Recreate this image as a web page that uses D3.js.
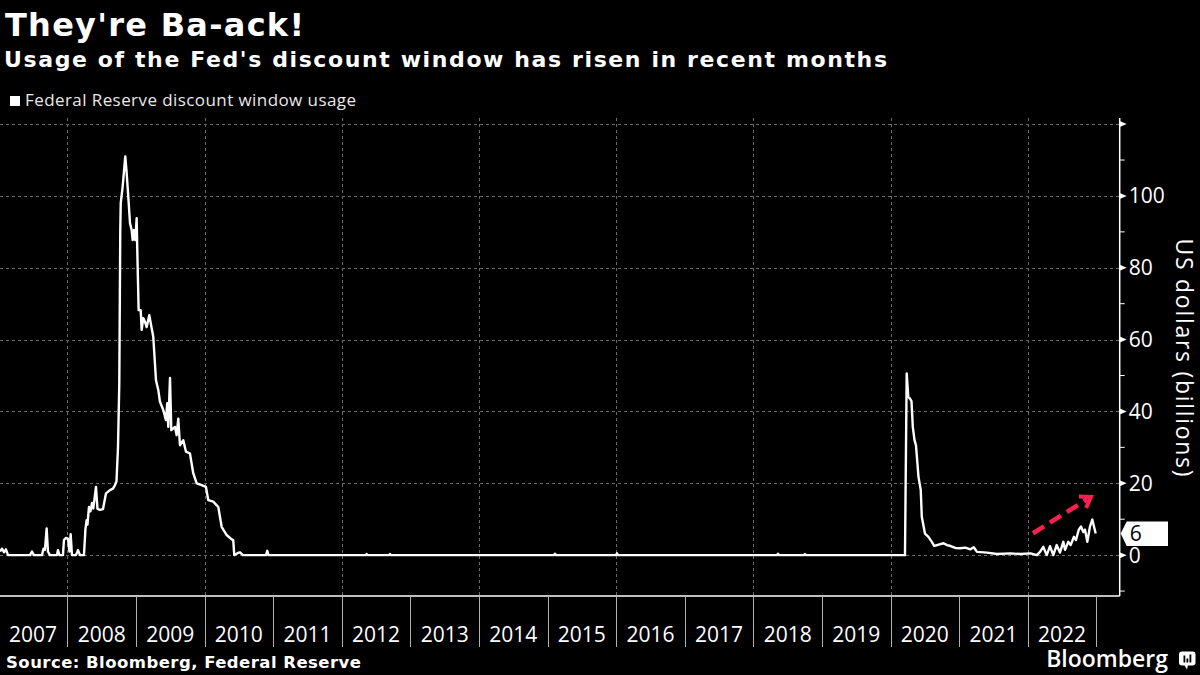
<!DOCTYPE html>
<html>
<head>
<meta charset="utf-8">
<script src="https://cdn.jsdelivr.net/npm/d3@7"></script>
<style>
body{margin:0;background:#000;}
svg{display:block;}
</style>
</head>
<body>
<script>
// weekly discount window usage, US$ billions (decimal year, value)
var usage = [
  [2007.018,1.0],[2007.047,1.8],[2007.076,0.8],[2007.105,1.6],[2007.134,0],
  [2007.455,0],[2007.484,1.0],[2007.513,0],
  [2007.630,0],[2007.652,1.8],[2007.673,1.5],[2007.698,7.4],[2007.717,1.0],[2007.746,0],
  [2007.848,0],[2007.863,1.4],[2007.885,0],
  [2007.936,0],[2007.950,4.2],[2007.980,4.8],[2008.009,4.6],[2008.031,1.0],[2008.048,5.8],[2008.067,0],
  [2008.125,0],[2008.155,1.4],[2008.184,0],[2008.242,0],
  [2008.264,7.4],[2008.281,9.7],[2008.293,8.5],[2008.315,13.4],[2008.337,12.2],[2008.359,14.5],
  [2008.378,13.0],[2008.417,19.0],[2008.439,12.9],[2008.475,12.6],[2008.519,12.8],[2008.563,17.2],
  [2008.621,18.1],[2008.665,18.5],[2008.694,19.5],[2008.716,20.5],[2008.738,30],[2008.757,47.9],
  [2008.771,90],[2008.778,98],[2008.806,102.6],[2008.844,111],[2008.862,107],[2008.888,99.8],
  [2008.913,92.4],[2008.937,90.5],[2008.952,87.7],[2008.971,90.5],[2008.990,87.7],[2009.010,93.8],
  [2009.019,85],[2009.039,68.2],[2009.069,68.2],[2009.083,62.7],[2009.106,66],[2009.131,65],
  [2009.156,63.5],[2009.194,66.8],[2009.252,60.8],[2009.292,48.7],[2009.325,46],[2009.350,42.7],
  [2009.398,40.4],[2009.437,37.6],[2009.456,42.3],[2009.471,35.7],[2009.496,49.3],[2009.515,34.8],
  [2009.569,35.7],[2009.593,33.4],[2009.617,38],[2009.641,30.6],[2009.690,32],[2009.729,28.8],
  [2009.787,28.3],[2009.835,22.8],[2009.885,20],[2009.958,19.5],[2010.020,19],[2010.054,15.3],
  [2010.127,14.9],[2010.200,13.4],[2010.249,7.9],[2010.322,5.6],[2010.395,4.4],[2010.418,4.2],
  [2010.433,0],[2010.487,0.6],[2010.516,0.8],[2010.560,0],
  [2010.895,0],[2010.914,1.2],[2010.931,0],
  [2012.353,0],[2012.363,0.3],[2012.375,0],[2012.688,0],[2012.703,0.3],[2012.717,0],
  [2015.093,0],[2015.108,0.4],[2015.122,0],[2015.997,0],[2016.012,0.5],[2016.026,0],
  [2018.344,0],[2018.359,0.4],[2018.373,0],[2018.738,0],[2018.752,0.3],[2018.767,0],
  [2020.210,0],[2020.235,50.6],[2020.258,44],[2020.283,43.6],[2020.305,42.8],[2020.324,35.7],
  [2020.349,32],[2020.370,30.6],[2020.407,21.8],[2020.440,18.1],[2020.455,10.7],[2020.501,6],
  [2020.552,5.1],[2020.601,3.7],[2020.636,2.6],[2020.698,2.9],[2020.773,3.3],[2020.822,2.8],
  [2020.866,2.6],[2020.943,2.0],[2021.016,1.9],[2021.089,2.1],[2021.162,1.6],[2021.212,2.2],
  [2021.260,0.9],[2021.405,0.7],[2021.551,0.3],[2021.746,0.5],[2021.893,0.3],[2022.041,0.5],
  [2022.134,0],[2022.178,0.9],[2022.226,2.3],[2022.276,0],[2022.324,2.5],[2022.372,0],
  [2022.421,2.8],[2022.469,0.7],[2022.518,3.7],[2022.543,1.5],[2022.590,3.7],[2022.625,2.8],
  [2022.673,5.1],[2022.703,4.2],[2022.742,7],[2022.776,8],[2022.809,6.4],[2022.834,7.1],
  [2022.868,3.7],[2022.907,8],[2022.940,9.9],[2022.990,6]
];
var years = [2007,2008,2009,2010,2011,2012,2013,2014,2015,2016,2017,2018,2019,2020,2021,2022];
var gridYears = [2008,2010,2012,2014,2016,2018,2020,2022];
var yMajor = [0,20,40,60,80,100,120];
var yLabels = [0,20,40,60,80,100];
var yMinor = [-10,10,30,50,70,90,110];
// red "rising" arrow, in data units
var arrowFrom = [2022.076,6.1], arrowTo = [2022.92,16.2];

var W = 1200, H = 675;
var svg = d3.select("body").append("svg").attr("width",W).attr("height",H);
svg.append("rect").attr("width",W).attr("height",H).attr("fill","#000");

var x = d3.scaleLinear().domain([2007.018, 2023.34]).range([0, 1119.7]);
var y = d3.scaleLinear().domain([-11.1, 121.7]).range([595, 118]);
var axisX = x.range()[1], baseY = 596;

// titles
svg.append("text").attr("x",5).attr("y",36)
  .attr("textLength",299).attr("lengthAdjust","spacing")
  .attr("style","font-family:'DejaVu Sans';font-weight:bold;font-size:32px;fill:#fff")
  .text("They're Ba-ack!");
svg.append("text").attr("x",4).attr("y",67)
  .attr("textLength",883).attr("lengthAdjust","spacing")
  .attr("style","font-family:'DejaVu Sans';font-weight:bold;font-size:22px;fill:#fff")
  .text("Usage of the Fed's discount window has risen in recent months");

// legend
svg.append("rect").attr("x",10).attr("y",96).attr("width",10).attr("height",10).attr("fill","#fff");
svg.append("text").attr("x",25).attr("y",106)
  .attr("textLength",331).attr("lengthAdjust","spacing")
  .attr("style","font-family:'Open Sans';font-size:17px;fill:#e8e8e8")
  .text("Federal Reserve discount window usage");

// grid
var grid = svg.append("g").attr("stroke","#6a6a6a").attr("stroke-width",1).attr("stroke-dasharray","3,3");
grid.selectAll("line.h").data(yMajor).enter().append("line").attr("class","h")
  .attr("x1",0).attr("x2",axisX)
  .attr("y1",function(d){return Math.round(y(d))+0.5;})
  .attr("y2",function(d){return Math.round(y(d))+0.5;});
grid.selectAll("line.v").data(gridYears).enter().append("line").attr("class","v")
  .attr("x1",function(d){return Math.round(x(d))+0.5;})
  .attr("x2",function(d){return Math.round(x(d))+0.5;})
  .attr("y1",y.range()[1]).attr("y2",baseY);

// bottom axis: baseline, year separators, centred labels
svg.append("line").attr("x1",0).attr("x2",axisX).attr("y1",baseY).attr("y2",baseY)
  .attr("stroke","#fff").attr("stroke-width",1.5);
svg.selectAll("line.sep").data(years.map(function(d){return d+1;})).enter().append("line").attr("class","sep")
  .attr("x1",function(d){return Math.round(x(d))+0.5;})
  .attr("x2",function(d){return Math.round(x(d))+0.5;})
  .attr("y1",baseY).attr("y2",647)
  .attr("stroke","#b0b0b0").attr("stroke-width",1);
svg.selectAll("text.yr").data(years).enter().append("text").attr("class","yr")
  .attr("x",function(d){return x(d+0.5);}).attr("y",642)
  .attr("text-anchor","middle")
  .attr("style","font-family:'Open Sans';font-size:21px;fill:#fff")
  .text(function(d){return d;});

// right axis
var ax = svg.append("g");
ax.append("line").attr("x1",axisX).attr("x2",axisX).attr("y1",y.range()[1]).attr("y2",baseY)
  .attr("stroke","#fff").attr("stroke-width",1.5);
ax.selectAll("path.maj").data(yMajor).enter().append("path").attr("class","maj")
  .attr("d",function(d){var v=y(d);return "M"+axisX+","+(v-3)+"L"+(axisX+7)+","+v+"L"+axisX+","+(v+3)+"Z";})
  .attr("fill","#fff");
ax.selectAll("line.min").data(yMinor).enter().append("line").attr("class","min")
  .attr("x1",axisX).attr("x2",axisX+5)
  .attr("y1",function(d){return y(d);}).attr("y2",function(d){return y(d);})
  .attr("stroke","#fff").attr("stroke-width",1);
ax.selectAll("text.yl").data(yLabels).enter().append("text").attr("class","yl")
  .attr("x",axisX+9).attr("y",function(d){return y(d)+7.5;})
  .attr("style","font-family:'Open Sans';font-size:21px;fill:#fff")
  .text(function(d){return d;});
svg.append("text")
  .attr("transform","translate(1176,"+y(55)+") rotate(90)")
  .attr("text-anchor","middle")
  .attr("textLength",238).attr("lengthAdjust","spacing")
  .attr("style","font-family:'Open Sans';font-size:23px;fill:#fff")
  .text("US dollars (billions)");

// series
svg.append("clipPath").attr("id","plot").append("rect")
  .attr("x",0).attr("y",y.range()[1]).attr("width",axisX).attr("height",baseY-y.range()[1]);
var line = d3.line().x(function(d){return x(d[0]);}).y(function(d){return y(d[1]);});
svg.append("path").datum(usage).attr("d",line).attr("clip-path","url(#plot)")
  .attr("fill","none").attr("stroke","#fff").attr("stroke-width",2.4).attr("stroke-linejoin","round");

// last value flag
var last = usage[usage.length-1], ly = y(last[1]);
svg.append("path")
  .attr("d","M"+(axisX+1)+","+ly+"L"+(axisX+7)+","+(ly-12)+"L1168,"+(ly-12)+"L1168,"+(ly+12.5)+"L"+(axisX+7)+","+(ly+12.5)+"Z")
  .attr("fill","#fff");
svg.append("text").attr("x",axisX+10).attr("y",ly+7.5)
  .attr("style","font-family:'Open Sans';font-size:21px;fill:#000")
  .text(d3.format(".0f")(last[1]));

// red dashed arrow
var ax1 = x(arrowFrom[0]), ay1 = y(arrowFrom[1]), ax2 = x(arrowTo[0]), ay2 = y(arrowTo[1]);
var ang = Math.atan2(ay2-ay1, ax2-ax1);
svg.append("line").attr("x1",ax1).attr("y1",ay1)
  .attr("x2",ax2-4*Math.cos(ang)).attr("y2",ay2-4*Math.sin(ang))
  .attr("stroke","#ff1f4f").attr("stroke-width",4.5).attr("stroke-dasharray","13,7");
var hl = 12;
svg.append("path")
  .attr("d","M"+(ax2-hl*Math.cos(ang-0.6))+","+(ay2-hl*Math.sin(ang-0.6))+"L"+ax2+","+ay2+"L"+(ax2-hl*Math.cos(ang+0.6))+","+(ay2-hl*Math.sin(ang+0.6)))
  .attr("fill","none").attr("stroke","#ff1f4f").attr("stroke-width",4).attr("stroke-linejoin","miter");

// footer
svg.append("text").attr("x",6).attr("y",668)
  .attr("textLength",355).attr("lengthAdjust","spacing")
  .attr("style","font-family:'DejaVu Sans';font-weight:bold;font-size:16.5px;fill:#fff")
  .text("Source: Bloomberg, Federal Reserve");
svg.append("text").attr("x",1168).attr("y",667).attr("text-anchor","end")
  .attr("style","font-family:'Open Sans';font-weight:600;font-size:23px;fill:#fff")
  .text("Bloomberg");
var logo = svg.append("g").attr("transform","translate(1179,651.5)");
logo.append("rect").attr("width",16.5).attr("height",14).attr("rx",3).attr("fill","#fff");
logo.append("path").attr("d","M5,13 L8,18 L9,13 Z").attr("fill","#fff");
[[4.5,7],[7.5,4],[10.5,8]].forEach(function(b){
  logo.append("rect").attr("x",b[0]).attr("y",11-b[1]).attr("width",1.8).attr("height",b[1]).attr("fill","#000");
});
</script>
</body>
</html>
